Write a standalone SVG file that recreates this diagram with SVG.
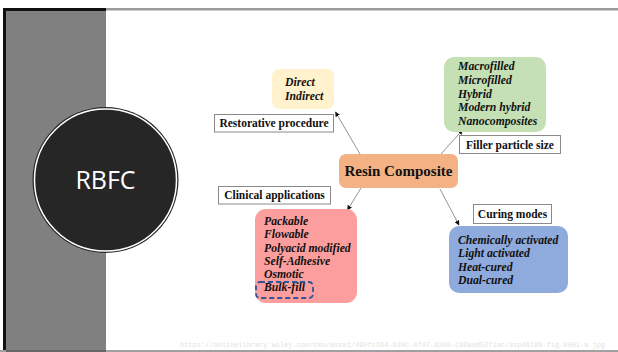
<svg xmlns="http://www.w3.org/2000/svg" width="618" height="352" viewBox="0 0 618 352">
<defs>
<style>
.box{stroke:none}
.lbl{fill:#fff;stroke:#8a8a8a;stroke-width:1}
.lt{font-family:"Liberation Serif","Times New Roman",serif;font-weight:bold;font-size:11.5px;fill:#111}
.it{font-family:"Liberation Serif","Times New Roman",serif;font-weight:bold;font-style:italic;font-size:11.7px;fill:#111}
.conn{stroke:#777;stroke-width:0.8;fill:none;marker-end:url(#ah)}
</style>
<marker id="ah" viewBox="0 0 10 10" refX="9" refY="5" markerWidth="5" markerHeight="5" orient="auto" markerUnits="userSpaceOnUse">
<path d="M0,0 L10,5 L0,10 z" fill="#111"/>
</marker>
</defs>
<rect x="0" y="0" width="618" height="352" fill="#fff"/>
<!-- frame -->
<rect x="3" y="8" width="615" height="2.5" fill="#9a9a9a"/>
<rect x="3" y="8" width="103" height="3" fill="#111"/>
<rect x="6" y="11" width="100" height="341" fill="#808080"/>
<rect x="3" y="8" width="3" height="344" fill="#111"/>
<rect x="0" y="350" width="618" height="2" fill="#a0a0a0"/>
<rect x="6" y="350" width="100" height="2" fill="#666"/>
<!-- RBFC circle -->
<g id="rbfc">
<circle cx="105.5" cy="180" r="73" fill="#262626"/>
<circle cx="105.5" cy="180" r="71" fill="#262626" stroke="#fff" stroke-width="1.5"/>
<text x="105.5" y="189" text-anchor="middle" font-family="'Open Sans','Noto Sans',sans-serif" font-size="25" fill="#fff">RBFC</text>
</g>
<!-- connectors -->
<g id="connectors">
<line class="conn" x1="360" y1="154" x2="335.5" y2="112"/>
<line class="conn" x1="441" y1="154" x2="462.5" y2="130"/>
<line class="conn" x1="361" y1="188" x2="347.5" y2="210"/>
<line class="conn" x1="440" y1="189" x2="459" y2="225"/>
</g>
<g id="resin">
<rect x="339" y="154" width="119" height="34" rx="7" fill="#f4b183"/>
<text x="398.5" y="176" text-anchor="middle" font-family="'Liberation Serif','Times New Roman',serif" font-weight="bold" font-size="15" fill="#111">Resin Composite</text>
</g>
<g id="restorative">
<rect x="272" y="69" width="62" height="40" rx="7" fill="#fff2cc"/>
<text class="it" x="285" y="86">Direct</text>
<text class="it" x="285" y="100">Indirect</text>
</g>
<g id="restorative-label">
<rect class="lbl" x="214.5" y="114.5" width="119" height="17.5"/>
<text class="lt" x="274" y="127" text-anchor="middle">Restorative procedure</text>
</g>
<g id="filler">
<rect x="444" y="57" width="102" height="75" rx="10" fill="#c5e0b4"/>
<text class="it" x="458" y="70">Macrofilled</text>
<text class="it" x="458" y="84">Microfilled</text>
<text class="it" x="458" y="97.5">Hybrid</text>
<text class="it" x="458" y="111">Modern hybrid</text>
<text class="it" x="458" y="125">Nanocomposites</text>
</g>
<g id="filler-label">
<rect class="lbl" x="459.5" y="135.5" width="101" height="18"/>
<text class="lt" x="510" y="149" text-anchor="middle">Filler particle size</text>
</g>
<g id="clinical-label">
<rect class="lbl" x="218.5" y="186.5" width="112" height="17.5"/>
<text class="lt" x="274.5" y="199" text-anchor="middle">Clinical applications</text>
</g>
<g id="clinical">
<rect x="255" y="209" width="102" height="94" rx="11" fill="#fd9e9e"/>
<text class="it" x="264" y="225">Packable</text>
<text class="it" x="264" y="238">Flowable</text>
<text class="it" x="264" y="251.5">Polyacid modified</text>
<text class="it" x="264" y="264.5">Self-Adhesive</text>
<text class="it" x="264" y="277.5">Osmotic</text>
<text class="it" x="264" y="290.5">Bulk-fill</text>
<rect x="256" y="282" width="57" height="16" rx="4" fill="none" stroke="#2f5597" stroke-width="1.8" stroke-dasharray="5,3"/>
</g>
<g id="curing-label">
<rect class="lbl" x="473.5" y="204.5" width="78" height="19"/>
<text class="lt" x="512.5" y="218" text-anchor="middle">Curing modes</text>
</g>
<g id="curing">
<rect x="449" y="226" width="119" height="67" rx="10" fill="#8faadc"/>
<text class="it" x="458" y="244">Chemically activated</text>
<text class="it" x="458" y="257">Light activated</text>
<text class="it" x="458" y="270.5">Heat-cured</text>
<text class="it" x="458" y="283.5">Dual-cured</text>
</g>
<text x="180" y="347" font-family="'Liberation Mono',monospace" font-size="7" fill="#e2e2e2" textLength="425" lengthAdjust="spacingAndGlyphs">https://onlinelibrary.wiley.com/cms/asset/490fc364-b20c-4f07-83d0-c82aed52f1ac/ssp48180-fig-0001-m.jpg</text>
</svg>
